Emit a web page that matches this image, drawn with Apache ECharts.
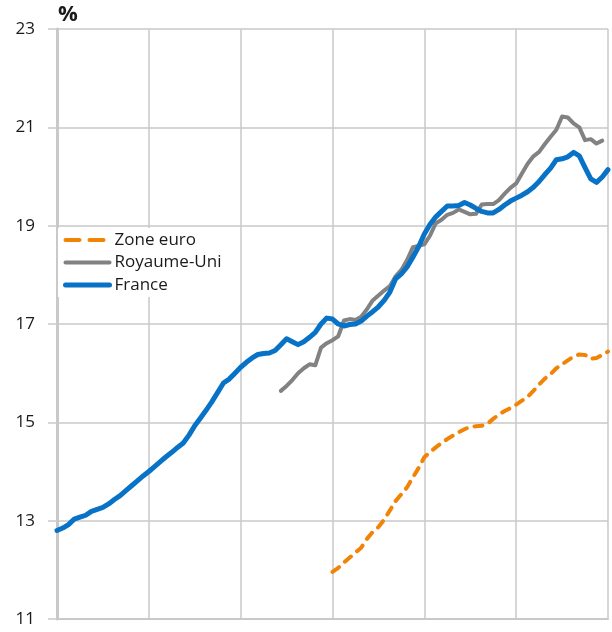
<!DOCTYPE html>
<html>
<head>
<meta charset="utf-8">
<script src="https://cdn.jsdelivr.net/npm/echarts@6/dist/echarts.min.js"></script>
<style>
  html, body { margin: 0; padding: 0; background: #fff; }
  #chart { width: 612px; height: 632px; }
</style>
</head>
<body>
<div id="chart"></div>
<script>
// trimestres : 0 .. 96 (grille verticale tous les 16)
var quarterCount = 97;
var yTicks = [11, 13, 15, 17, 19, 21, 23];

var france = [
  12.80, 12.85, 12.92, 13.03, 13.07, 13.11, 13.19, 13.23, 13.27, 13.34,
  13.43, 13.51, 13.61, 13.71, 13.81, 13.91, 14.00, 14.10, 14.20, 14.30,
  14.39, 14.49, 14.58, 14.74, 14.93, 15.09, 15.25, 15.42, 15.61, 15.80,
  15.88, 16.00, 16.12, 16.22, 16.31, 16.38, 16.40, 16.41, 16.46, 16.58,
  16.70, 16.64, 16.58, 16.64, 16.73, 16.83, 17.00, 17.12, 17.10, 17.00,
  16.96, 16.99, 17.00, 17.06, 17.16, 17.25, 17.35, 17.48, 17.65, 17.92,
  18.02, 18.16, 18.36, 18.57, 18.83, 19.03, 19.18, 19.29, 19.40, 19.40,
  19.41, 19.47, 19.42, 19.35, 19.29, 19.26, 19.26, 19.33, 19.42, 19.50,
  19.56, 19.62, 19.69, 19.78, 19.90, 20.04, 20.17, 20.34, 20.36, 20.40,
  20.49, 20.42, 20.18, 19.95, 19.88, 19.99, 20.14
];

// Royaume-Uni : à partir du trimestre 39
var ukStart = 39;
var royaumeUni = [
  15.64, 15.74, 15.86, 16.00, 16.10, 16.18, 16.16, 16.52, 16.61, 16.67,
  16.75, 17.07, 17.10, 17.08, 17.15, 17.30, 17.48, 17.58, 17.68, 17.77,
  17.97, 18.10, 18.30, 18.56, 18.59, 18.62, 18.80, 19.05, 19.12, 19.22,
  19.26, 19.33, 19.28, 19.23, 19.24, 19.43, 19.44, 19.44, 19.52, 19.65,
  19.77, 19.86, 20.06, 20.26, 20.41, 20.50, 20.66, 20.81, 20.95, 21.22,
  21.20, 21.08, 21.00, 20.74, 20.76, 20.67, 20.73
];

// Zone euro : à partir du trimestre 48
var euroStart = 48;
var zoneEuro = [
  11.96, 12.04, 12.15, 12.25, 12.35, 12.45, 12.63, 12.77, 12.87, 13.02,
  13.21, 13.40, 13.54, 13.68, 13.88, 14.07, 14.29, 14.40, 14.49, 14.58,
  14.66, 14.73, 14.80, 14.86, 14.91, 14.92, 14.93, 14.97, 15.07, 15.16,
  15.23, 15.29, 15.36, 15.44, 15.52, 15.64, 15.77, 15.89, 15.98, 16.10,
  16.18, 16.26, 16.34, 16.38, 16.37, 16.29, 16.31, 16.37, 16.44
];

function toPoints(values, start) {
  var pts = [];
  for (var i = 0; i < values.length; i++) {
    pts.push([start + i, values[i]]);
  }
  return pts;
}

var gridColor = "#c9c9c9";
var textColor = "#1a1a1a";
var font = "'Open Sans', 'DejaVu Sans', sans-serif";

var myChart = echarts.init(document.getElementById("chart"), null, { renderer: "canvas" });

myChart.setOption({
  animation: false,
  backgroundColor: "#fff",
  grid: {
    left: 57,
    right: 4,
    top: 29,
    bottom: 13,
  },
  legend: {
    orient: "vertical",
    left: 58,
    top: 228,
    padding: [2, 5, 2, 5],
    backgroundColor: "#fff",
    itemWidth: 44,
    itemHeight: 10,
    itemGap: 2.5,
    itemStyle: { opacity: 0 }, // pas de symbole, juste le trait
    data: [
      { name: "Zone euro", lineStyle: { width: 4, type: [14, 10], cap: "round" } },
      { name: "Royaume-Uni", lineStyle: { width: 4, cap: "round" } },
      { name: "France", lineStyle: { width: 5, cap: "round" } },
    ],
    textStyle: {
      fontFamily: font,
      fontSize: 17,
      lineHeight: 20,
      color: textColor,
    },
  },
  graphic: [
    {
      type: "text",
      left: 58,
      top: 4,
      style: {
        text: "%",
        font: "bold 22px " + font,
        fill: textColor,
      },
    },
  ],
  xAxis: {
    type: "value",
    min: 0,
    max: quarterCount - 1,
    interval: 16,
    axisLabel: { show: false },
    axisTick: { show: false },
    axisLine: {
      lineStyle: { color: gridColor, width: 2 },
    },
    splitLine: {
      show: true,
      lineStyle: { color: gridColor, width: 1.5 },
    },
  },
  yAxis: {
    type: "value",
    min: 11,
    max: 23,
    interval: 1,
    axisLine: {
      show: true,
      lineStyle: { color: gridColor, width: 3 },
    },
    axisTick: {
      show: true,
      length: 9,
      customValues: yTicks,
      lineStyle: { color: gridColor, width: 1.5 },
    },
    axisLabel: {
      customValues: yTicks,
      margin: 22,
      fontFamily: font,
      fontSize: 17,
      color: textColor,
    },
    splitLine: {
      show: true,
      lineStyle: { color: gridColor, width: 1.5 },
    },
  },
  series: [
    {
      name: "Zone euro",
      type: "line",
      data: toPoints(zoneEuro, euroStart),
      symbol: "none",
      color: "#f18407",
      lineStyle: {
        width: 4,
        type: [8, 8],
        cap: "round",
      },
    },
    {
      name: "Royaume-Uni",
      type: "line",
      data: toPoints(royaumeUni, ukStart),
      symbol: "none",
      color: "#828282",
      lineStyle: {
        width: 4,
        cap: "round",
        join: "round",
      },
    },
    {
      name: "France",
      type: "line",
      data: toPoints(france, 0),
      symbol: "none",
      color: "#0872c7",
      lineStyle: {
        width: 5,
        cap: "round",
        join: "round",
      },
    },
  ],
});
</script>
</body>
</html>
